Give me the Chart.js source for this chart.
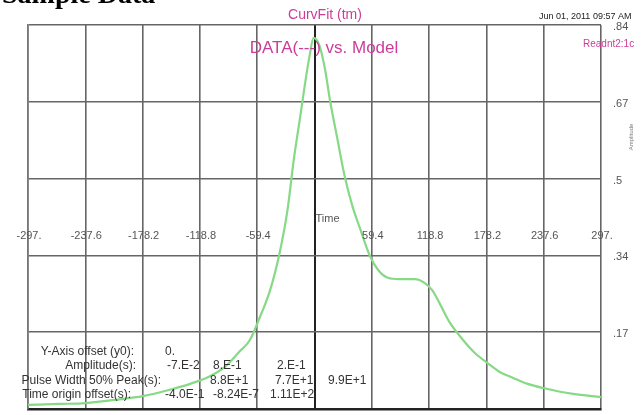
<!DOCTYPE html>
<html>
<head>
<meta charset="utf-8">
<script src="https://cdn.jsdelivr.net/npm/chart.js@4/dist/chart.umd.min.js"></script>
<style>
    body { margin: 0; background: #fff; }
    canvas { display: block; background: #fff; }
</style>
</head>
<body>
<canvas id="curvFit" width="643" height="415"></canvas>
<script>
// model curve
let timeVals = [-297, -264, -237, -207, -178, -150, -129, -109, -93, -78, -67, -57, -46, -36, -28,
    -21.5, -15, -10, -5, -1, 5, 11, 16, 24, 31, 39, 47, 57, 66, 76,
    88, 104, 114, 122, 130, 140, 154, 166, 179, 192, 206, 221, 237, 268, 297];
let modelVals = [0.009, 0.011, 0.013, 0.020, 0.028, 0.042, 0.055, 0.071, 0.092, 0.125, 0.151, 0.199, 0.260, 0.343, 0.435,
    0.545, 0.637, 0.709, 0.774, 0.812, 0.796, 0.742, 0.676, 0.588, 0.512, 0.446, 0.396, 0.337, 0.304, 0.287,
    0.284, 0.284, 0.276, 0.260, 0.230, 0.190, 0.151, 0.123, 0.101, 0.081, 0.068, 0.055, 0.046, 0.033, 0.026];

let xTicks = [-297, -237.6, -178.2, -118.8, -59.4, 0, 59.4, 118.8, 178.2, 237.6, 297];
let xTickLabels = ['-297.', '-237.6', '-178.2', '-118.8', '-59.4', '', '59.4', '118.8', '178.2', '237.6', '297.'];
let yTicks = [0, 0.168, 0.336, 0.504, 0.672, 0.84];
let yTickLabels = ['', '.17', '.34', '.5', '.67', '.84'];

// fit results table
let paramNames = ['Y-Axis offset (y0):', 'Amplitude(s):', 'Pulse Width 50% Peak(s):', 'Time origin offset(s):'];
let paramValues = [
    ['0.'],
    ['-7.E-2', '8.E-1', '2.E-1'],
    ['8.8E+1', '7.7E+1', '9.9E+1'],
    ['-4.0E-1', '-8.24E-7', '1.11E+2']
];

let magenta = '#cc3d99';
let sans = '"Liberation Sans", Arial, sans-serif';

function text(ctx, str, x, y, font, color, align) {
    ctx.font = font;
    ctx.fillStyle = color;
    ctx.textAlign = align || 'left';
    ctx.textBaseline = 'middle';
    ctx.fillText(str, x, y);
}

const labelsPlugin = {
    id: 'labelsPlugin',
    afterDraw(chart) {
        let ctx = chart.ctx;
        let area = chart.chartArea;
        let xs = chart.scales.x;
        let ys = chart.scales.y;
        ctx.save();

        // heading cut off at the top
        ctx.font = 'bold 28px "Liberation Serif", serif';
        ctx.fillStyle = '#000';
        ctx.textAlign = 'left';
        ctx.textBaseline = 'alphabetic';
        ctx.fillText('Sample Data', 2, 3);

        text(ctx, 'CurvFit (tm)', 325, 15, '14px ' + sans, magenta, 'center');
        text(ctx, 'DATA(---) vs. Model', 324, 48, '17px ' + sans, magenta, 'center');
        text(ctx, 'Jun 01, 2011 09:57 AM', 539, 17, '9px ' + sans, '#222');
        text(ctx, 'Readnt2:1c', 583, 44, '10px ' + sans, magenta);

        // x labels float in the middle of the plot
        xTicks.forEach((v, i) => {
            text(ctx, xTickLabels[i], xs.getPixelForValue(v) + 1, 236, '11px ' + sans, '#555', 'center');
        });
        text(ctx, 'Time', xs.getPixelForValue(0) + 1, 219, '11px ' + sans, '#555');

        yTicks.forEach((v, i) => {
            text(ctx, yTickLabels[i], area.right + 12, ys.getPixelForValue(v) + 2, '11px ' + sans, '#555');
        });

        ctx.save();
        ctx.translate(631, 137);
        ctx.rotate(-Math.PI / 2);
        text(ctx, 'Amplitude', 0, 0, '6px ' + sans, '#777', 'center');
        ctx.restore();

        // table
        let rowY = [352, 366, 381, 395];
        let nameRight = [134, 136, 161, 131];
        let colX = [[165], [167, 213, 277], [210, 275, 328], [165, 213, 270]];
        paramNames.forEach((name, r) => {
            text(ctx, name, nameRight[r], rowY[r], '12px ' + sans, '#333', 'right');
            paramValues[r].forEach((val, c) => {
                text(ctx, val, colX[r][c], rowY[r], '12px ' + sans, '#333');
            });
        });

        ctx.restore();
    }
};

new Chart(document.getElementById('curvFit'), {
    type: 'line',
    data: {
        datasets: [{
            data: timeVals.map((t, i) => ({ x: t, y: modelVals[i] })),
            borderColor: '#86da86',
            borderWidth: 2.2,
            pointRadius: 0,
            cubicInterpolationMode: 'monotone',
            fill: false
        }]
    },
    options: {
        responsive: false,
        devicePixelRatio: 1,
        animation: false,
        layout: {
            padding: { left: 28, right: 42, top: 25, bottom: 6 }
        },
        plugins: {
            legend: { display: false },
            tooltip: { enabled: false }
        },
        scales: {
            x: {
                type: 'linear',
                min: -297,
                max: 297,
                afterBuildTicks: axis => { axis.ticks = xTicks.map(v => ({ value: v })); },
                ticks: { display: false },
                grid: {
                    drawTicks: false,
                    color: c => c.tick && c.tick.value === 0 ? '#222' : '#666',
                    lineWidth: c => c.tick && c.tick.value === 0 ? 2 : 1.6
                },
                border: { color: '#222', width: 2.5 }
            },
            y: {
                min: 0,
                max: 0.84,
                afterBuildTicks: axis => { axis.ticks = yTicks.map(v => ({ value: v })); },
                ticks: { display: false },
                grid: { drawTicks: false, color: '#666', lineWidth: 1.6 },
                border: { color: '#777', width: 1.6 }
            }
        }
    },
    plugins: [labelsPlugin]
});
</script>
</body>
</html>
